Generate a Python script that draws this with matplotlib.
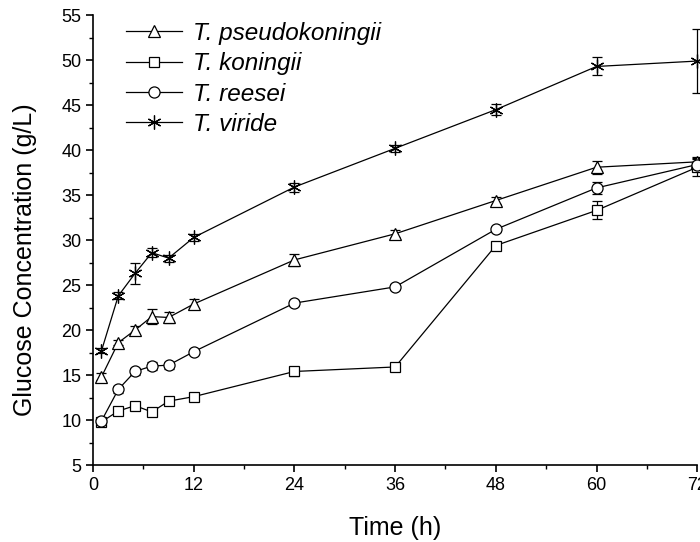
import matplotlib
matplotlib.use("Agg")
import matplotlib.pyplot as plt
from matplotlib.lines import Line2D
from matplotlib.ticker import MultipleLocator

plt.rcParams['font.family'] = ['Liberation Sans', 'DejaVu Sans']

# sampling times (h)
time = [1, 3, 5, 7, 9, 12, 24, 36, 48, 60, 72]

# glucose concentration (g/L) and error
pseudo = [14.8, 18.6, 20.0, 21.5, 21.4, 22.9, 27.8, 30.7, 34.4, 38.1, 38.7]
pseudo_err = [0.4, 0.3, 0.4, 0.8, 0.6, 0.5, 0.7, 0.4, 0.4, 0.7, 0.5]
koningii = [9.8, 11.0, 11.6, 10.9, 12.1, 12.6, 15.4, 15.9, 29.4, 33.3, 38.1]
koningii_err = [0.3, 0.3, 0.4, 0.2, 0.4, 0.3, 0.5, 0.2, 0.3, 1.0, 1.0]
reesei = [9.9, 13.4, 15.4, 16.0, 16.1, 17.6, 23.0, 24.8, 31.2, 35.8, 38.4]
reesei_err = [0.3, 0.4, 0.4, 0.4, 0.4, 0.3, 0.3, 0.3, 0.3, 0.7, 0.6]
viride = [17.7, 23.8, 26.3, 28.6, 28.0, 30.3, 35.9, 40.2, 44.5, 49.3, 49.9]
viride_err = [0.3, 0.4, 1.2, 0.5, 0.4, 0.4, 0.5, 0.4, 0.6, 1.0, 3.6]

labels = ['T. pseudokoningii', 'T. koningii', 'T. reesei', 'T. viride']
markers = ['^', 's', 'o', (6, 2, 0)]
msizes = [8, 7, 8, 10]

fig = plt.figure(figsize=(7, 5.42), dpi=100)
ax = fig.add_axes([0.133, 0.142, 0.863, 0.830])

series = [(pseudo, pseudo_err), (koningii, koningii_err),
          (reesei, reesei_err), (viride, viride_err)]
handles = []
for (y, e), lab, m, ms in zip(series, labels, markers, msizes):
    ax.errorbar(time, y, yerr=e, color='black', lw=0.9, elinewidth=0.9,
                capsize=3.5, capthick=0.9, marker=m, markersize=ms,
                mfc='white', mec='black', mew=0.9, clip_on=False)
    handles.append(Line2D([], [], color='black', lw=0.9, marker=m,
                          markersize=ms, mfc='white', mec='black', mew=0.9))

ax.set_xlim(0, 72)
ax.set_ylim(5, 55)
ax.xaxis.set_major_locator(MultipleLocator(12))
ax.xaxis.set_minor_locator(MultipleLocator(6))
ax.yaxis.set_major_locator(MultipleLocator(5))
ax.yaxis.set_minor_locator(MultipleLocator(2.5))
ax.spines['top'].set_visible(False)
ax.spines['right'].set_visible(False)
for s in ['left', 'bottom']:
    ax.spines[s].set_linewidth(1.2)
ax.tick_params(which='major', direction='out', length=5, width=1.2, labelsize=13)
ax.tick_params(which='minor', direction='out', length=3, width=1.0)

ax.set_xlabel('Time (h)', fontsize=18, labelpad=16)
ax.set_ylabel('Glucose Concentration (g/L)', fontsize=18)
ax.yaxis.set_label_coords(-0.093, 0.456)

ax.legend(handles, labels, loc='upper left', bbox_to_anchor=(0.055, 0.985),
          borderaxespad=0, borderpad=0, frameon=False,
          prop={'style': 'italic', 'size': 17.5},
          handlelength=2.3, handletextpad=0.45, labelspacing=0.3)

fig.savefig('out.png', dpi=100)
